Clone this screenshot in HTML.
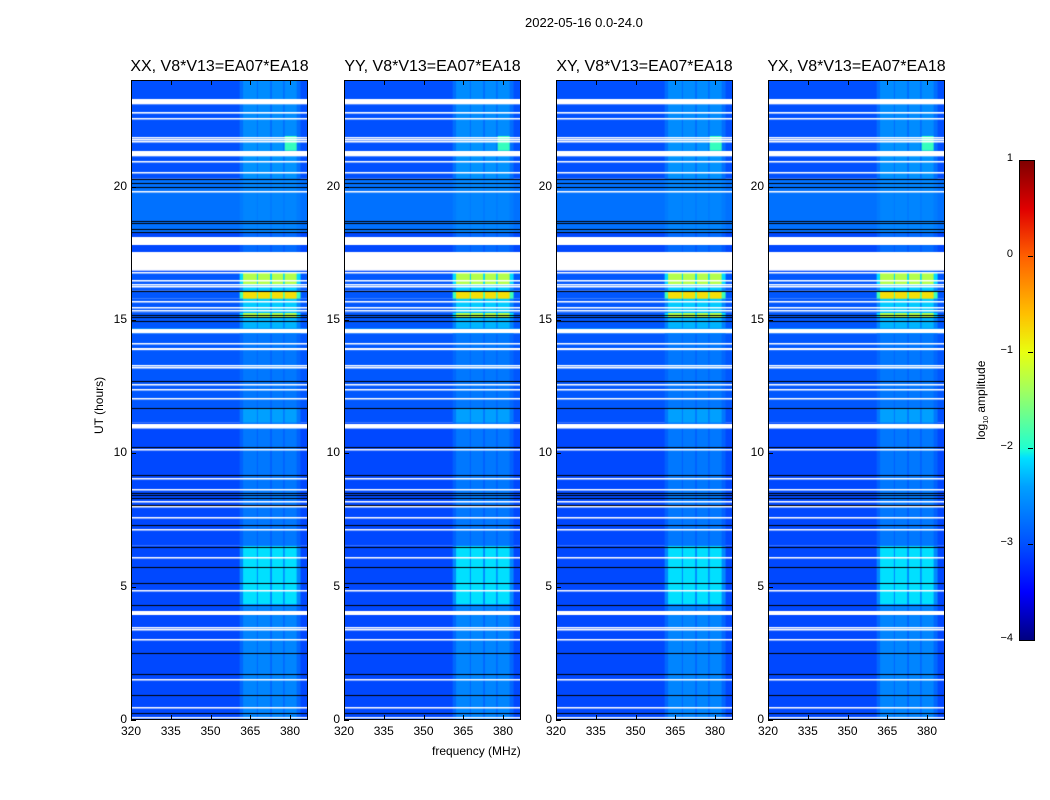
<!DOCTYPE html>
<html><head><meta charset="utf-8">
<style>
body{margin:0;background:#fff;font-family:"Liberation Sans",sans-serif;}
#root{position:relative;width:1050px;height:800px;overflow:hidden;background:#fff;}
.t{position:absolute;white-space:nowrap;color:#000;}
.panel{position:absolute;top:80px;width:177px;height:640px;}
.frame{position:absolute;left:0;top:0;width:175px;height:638px;border:1px solid #000;}
canvas{position:absolute;left:0;top:0;}
.tick{position:absolute;background:#000;}
</style></head><body>
<div id="root">
<div class="t" style="left:525px;top:15px;font-size:13px;">2022-05-16 0.0-24.0</div>
<div class="t" style="left:432px;top:744px;font-size:12px;">frequency (MHz)</div>
<div class="t" style="left:64px;top:392px;font-size:12px;transform:rotate(-90deg);transform-origin:center;width:70px;">UT (hours)</div>
<div id="cb" style="position:absolute;left:1019px;top:160px;width:14px;height:479px;border:1px solid #000;background:linear-gradient(to top,#000080 0%,#0000ff 10%,#0050ff 20%,#00a0ff 32%,#00e0ff 38%,#20ffd0 40%,#a0ff60 52%,#e8ff10 60%,#ffc000 68%,#ff6000 80%,#e00000 90%,#800000 100%);"></div>
<div class="t" style="left:937px;top:392px;font-size:12px;transform:rotate(-90deg);width:90px;transform-origin:center;text-align:center;">log<sub style="font-size:7px">10</sub> amplitude</div>
</div>
<script>
const panelNames=["XX","YY","XY","YX"];
const panelLefts=[131,344,556,768];
const xTicks=[320,335,350,365,380];
const yTicks=[0,5,10,15,20];
const cbTicks=[1,0,-1,-2,-3,-4];
const segStart=[0,4.35,6.55,11.15,11.7,14.5,14.7,15.1,15.27,15.8,16.1,16.35,16.8,18.3,20.3,21.7];
const segEnd  =[4.35,6.55,11.15,11.7,14.5,14.7,15.1,15.27,15.8,16.1,16.35,16.8,18.3,20.3,21.7,24];
const segBg   =[-3.05,-3.05,-3.05,-3.0,-2.95,-2.6,-2.95,-2.95,-2.95,-2.95,-2.95,-2.95,-3.05,-2.75,-3.0,-3.0];
const segBand =[-2.6,-2.1,-2.7,-2.4,-2.7,-2.4,-2.3,-1.3,-2.2,-0.8,-2.2,-1.3,-2.8,-2.6,-2.5,-2.55];
const bandLo=[362.3,367.9,373.2,378.0];
const bandHi=[367.5,372.5,377.4,382.5];
// bright block in last sub-band (hours)
const greenLo=[21.35];
const greenHi=[21.9];
const flagLo=[23.1,22.74,22.53,21.82,21.75,21.68,21.15,20.92,20.51,19.78,17.8,16.85,16.76,16.46,16.31,16.23,15.68,15.45,15.33,14.53,14.08,13.87,13.25,13.18,12.56,12.36,12.03,10.93,10.11,9.03,8.62,8.18,7.98,7.58,7.13,6.08,4.83,3.92,3.45,3.38,3.0,1.5,0.45,0.08];
const flagHi=[23.3,22.8,22.58,21.87,21.8,21.73,21.35,20.97,20.56,19.83,18.1,17.55,16.8,16.51,16.36,16.28,15.73,15.5,15.38,14.68,14.13,13.95,13.3,13.23,12.61,12.41,12.08,11.1,10.16,9.08,8.67,8.23,8.03,7.63,7.18,6.13,4.88,4.07,3.5,3.43,3.05,1.55,0.5,0.13];
const blackT=[20.3,20.15,20.0,18.73,18.65,18.4,18.3,16.1,15.2,15.1,14.95,12.7,11.7,10.25,9.2,8.53,8.45,8.34,8.08,7.33,6.5,5.72,5.12,4.33,2.53,1.74,0.92,0.28];

const stops=[[-4,[0,0,128]],[-3.5,[0,0,255]],[-3,[0,80,255]],[-2.4,[0,160,255]],[-2.1,[0,224,255]],[-2,[32,255,208]],[-1.4,[160,255,96]],[-1,[232,255,16]],[-0.6,[255,192,0]],[0,[255,96,0]],[0.5,[224,0,0]],[1,[128,0,0]]];
function cmap(v){
  if(v<=stops[0][0])return 'rgb('+stops[0][1]+')';
  for(let i=1;i<stops.length;i++){if(v<=stops[i][0]){const a=stops[i-1],b=stops[i];const f=(v-a[0])/(b[0]-a[0]);
    const c=a[1].map((x,k)=>Math.round(x+(b[1][k]-x)*f));return 'rgb('+c.join(',')+')';}}
  return 'rgb(128,0,0)';
}
const W=177,H=640;
function xs(f){return (f-320)*2.65;}
function ys(t){return H*(1-t/24);}
const root=document.getElementById('root');
panelNames.forEach((nm,pi)=>{
  const p=document.createElement('div');p.className='panel';p.style.left=panelLefts[pi]+'px';
  
  
  const cv=document.createElement('canvas');cv.width=W;cv.height=H;
  
  
  const g=cv.getContext('2d');
  for(let i=0;i<segStart.length;i++){
    const y0=ys(segEnd[i]),y1=ys(segStart[i]);
    g.fillStyle=cmap(segBg[i]);g.fillRect(0,y0,W,y1-y0);
    g.fillStyle=cmap((segBg[i]+segBand[i])/2);g.fillRect(xs(361),y0,xs(384)-xs(361),y1-y0);
    for(let b=0;b<bandLo.length;b++){
      g.fillStyle=cmap(segBand[i]);g.fillRect(xs(bandLo[b]),y0,xs(bandHi[b])-xs(bandLo[b]),y1-y0);
    }
  }
  for(let i=0;i<greenLo.length;i++){
    g.fillStyle=cmap(-1.9);g.fillRect(xs(bandLo[3]),ys(greenHi[i]),xs(bandHi[3])-xs(bandLo[3]),ys(greenLo[i])-ys(greenHi[i]));
  }
  g.fillStyle='#fff';
  for(let i=0;i<flagLo.length;i++){const y0=ys(flagHi[i]),y1=ys(flagLo[i]);g.fillRect(0,Math.round(y0),W,Math.max(1.5,y1-y0));}
  g.fillStyle='#000';
  for(let i=0;i<blackT.length;i++){g.fillRect(0,Math.round(ys(blackT[i])),W,1);}
  p.appendChild(cv);
  const fr=document.createElement('div');fr.className='frame';
  
  
  p.appendChild(fr);
  xTicks.forEach(v=>{
    const x=xs(v);
    const tk=document.createElement('div');tk.className='tick';tk.style.cssText='left:'+x+'px;top:'+(H-5)+'px;width:1px;height:5px;';
    
    
    p.appendChild(tk);
    const tk2=document.createElement('div');tk2.className='tick';tk2.style.cssText='left:'+x+'px;top:0px;width:1px;height:5px;';
    
    
    p.appendChild(tk2);
    const l=document.createElement('div');l.className='t';l.textContent=v;l.style.cssText='left:'+(x-12)+'px;top:'+(H+4)+'px;width:24px;text-align:center;font-size:12px;';
    
    
    p.appendChild(l);
  });
  yTicks.forEach(v=>{
    const y=ys(v);
    const tk=document.createElement('div');tk.className='tick';tk.style.cssText='left:0px;top:'+y+'px;width:5px;height:1px;';
    
    
    p.appendChild(tk);
    const l=document.createElement('div');l.className='t';l.textContent=v;l.style.cssText='left:-34px;top:'+(y-8)+'px;width:30px;text-align:right;font-size:12px;';
    
    
    p.appendChild(l);
  });
  const tt=document.createElement('div');tt.className='t';tt.textContent=nm+', V8*V13=EA07*EA18';
  tt.style.cssText='left:-22px;top:-22px;width:221px;text-align:center;font-size:16px;';
  
  
  p.appendChild(tt);
  root.appendChild(p);
});
cbTicks.forEach(v=>{
  const y=160+480*(1-(v+4)/5);
  const l=document.createElement('div');l.className='t';l.textContent=(v<0?'\u2212'+(-v):v);
  l.style.cssText='left:980px;top:'+(y-8)+'px;width:33px;text-align:right;font-size:11px;';
  
  
  root.appendChild(l);
  const tk=document.createElement('div');tk.className='tick';tk.style.cssText='left:1028px;top:'+y+'px;width:5px;height:1px;';
  
  
  root.appendChild(tk);
});
</script>
</body></html>
